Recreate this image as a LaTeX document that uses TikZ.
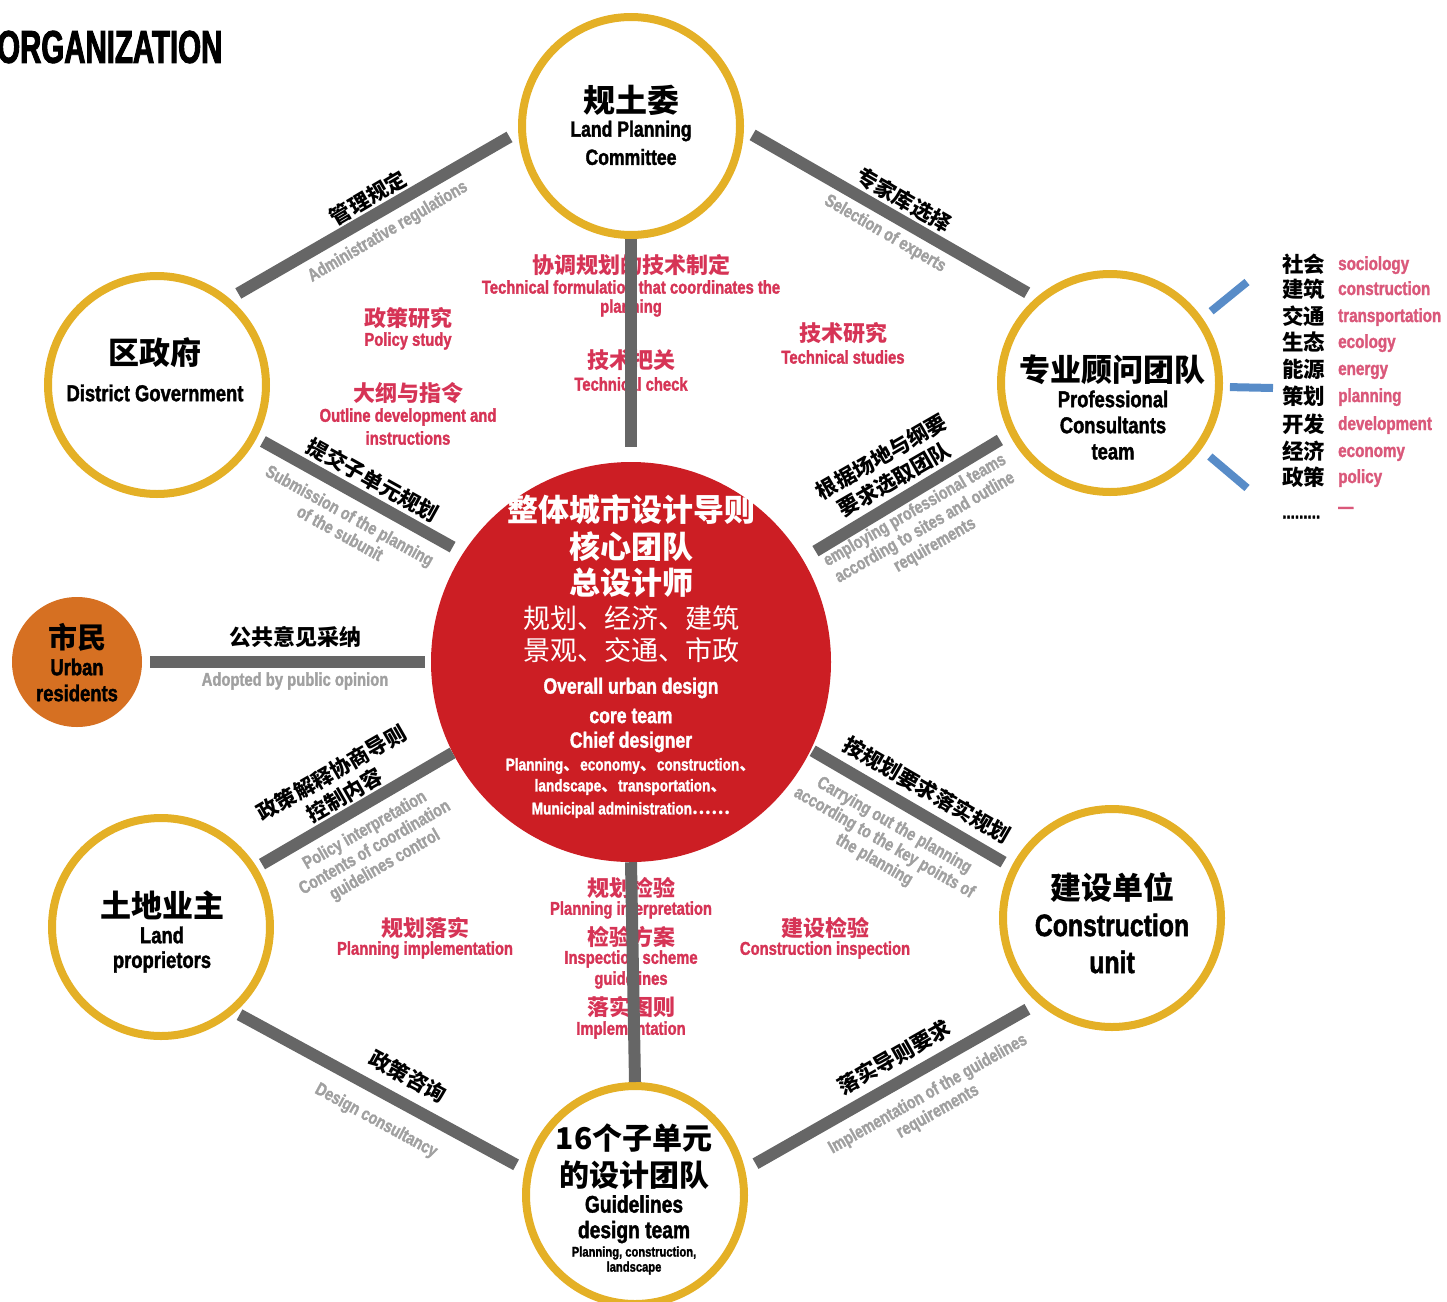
\documentclass[tikz,border=0pt]{standalone}
\usepackage{fontspec}
\newfontfamily\cjkfont{Noto Sans CJK SC}
\newfontfamily\condfont{Liberation Sans}[FakeStretch=0.8, FakeBold=1.6]
\newfontfamily\ttlfont{Liberation Sans}[FakeStretch=0.64, FakeBold=2]
\newcommand{\fs}[2]{\fontsize{#1}{#2}\selectfont}
\definecolor{ringY}{RGB}{228,176,38}
\definecolor{coreR}{RGB}{204,30,36}
\definecolor{orgO}{RGB}{214,112,34}
\definecolor{barG}{RGB}{102,102,102}
\definecolor{txtG}{RGB}{160,160,160}
\definecolor{labR}{RGB}{214,52,86}
\definecolor{listP}{RGB}{218,88,122}
\definecolor{lineB}{RGB}{88,140,200}
\begin{document}
\begin{tikzpicture}[x=1pt,y=-1pt,
  ring/.style={circle, draw=ringY, line width=8pt, minimum size=218pt, inner sep=0pt, fill=white},
  bar/.style={draw=barG, line width=12pt},
  blueline/.style={draw=lineB, line width=8pt},
  cnT/.style={inner sep=0pt, text=black, font=\cjkfont\bfseries\fs{#1}{#1}},
  enT/.style={inner sep=0pt, text=black, font=\condfont\bfseries\fs{#1}{#1}},
  cnW/.style={inner sep=0pt, text=white, font=\cjkfont\bfseries\fs{#1}{#1}},
  cnL/.style={inner sep=0pt, text=white, font=\cjkfont\fs{#1}{#1}},
  enW/.style={inner sep=0pt, text=white, font=\condfont\bfseries\fs{#1}{#1}},
  redcn/.style={inner sep=0pt, text=labR, font=\cjkfont\bfseries\fs{22}{22}},
  reden/.style={inner sep=0pt, text=labR, font=\condfont\bfseries\fs{18.5}{18.5}},
  barcn/.style={inner sep=0pt, align=center, text=black, font=\cjkfont\bfseries\fs{21}{26}},
  baren/.style={inner sep=0pt, align=center, text=txtG, font=\condfont\bfseries\fs{18}{20}},
  listcn/.style={inner sep=0pt, anchor=west, text=black, font=\cjkfont\bfseries\fs{21.5}{21.5}, text height=18pt, text depth=3pt},
  listen/.style={inner sep=0pt, anchor=west, text=listP, font=\condfont\bfseries\fs{19}{19}, text height=14pt, text depth=4pt}
]
\useasboundingbox (0,0) rectangle (1447,1301);

% title
\node[anchor=west, inner sep=0pt, font=\ttlfont\bfseries\fs{46}{46}] (ttl) at (-3,47) {ORGANIZATION};

% circles
\node[ring] (lpc) at (631,126) {};
\node[ring] (dg) at (157,385) {};
\node[ring] (pct) at (1110,383) {};
\node[ring] (lp) at (161,927) {};
\node[ring] (cu) at (1112,918) {};
\node[ring] (gdt) at (635,1195) {};
\node[circle, fill=coreR, minimum size=400pt, inner sep=0pt] (core) at (631,662) {};
\node[circle, fill=orgO, minimum size=130pt, inner sep=0pt] (ur) at (77,662) {};

% red labels (drawn beneath the bars)
\node[redcn] (r1a) at (631,265) {协调规划的技术制定};
\node[reden] (r1b) at (631,287) {Technical formulation that coordinates the};
\node[reden] (r1c) at (631,308) {planning};
\node[redcn] (r2a) at (631,360) {技术把关};
\node[reden] (r2b) at (631,384) {Technical check};
\node[redcn] (r3a) at (408,318) {政策研究};
\node[reden] (r3b) at (408,341) {Policy study};
\node[redcn] (r4a) at (408,393) {大纲与指令};
\node[reden] (r4b) at (408,417) {Outline development and};
\node[reden] (r4c) at (408,438) {instructions};
\node[redcn] (r5a) at (843,333) {技术研究};
\node[reden] (r5b) at (843,357) {Technical studies};
\node[redcn] (r6a) at (425,928) {规划落实};
\node[reden] (r6b) at (425,950) {Planning implementation};
\node[redcn] (r7a) at (631,888) {规划检验};
\node[reden] (r7b) at (631,910) {Planning interpretation};
\node[redcn] (r7c) at (631,937) {检验方案};
\node[reden] (r7d) at (631,959) {Inspection scheme};
\node[reden] (r7e) at (631,980) {guidelines};
\node[redcn] (r7f) at (631,1007) {落实图则};
\node[reden] (r7g) at (631,1030) {Implementation};
\node[redcn] (r8a) at (825,928) {建设检验};
\node[reden] (r8b) at (825,950) {Construction inspection};

% bars
\draw[bar, shorten <=10pt, shorten >=10pt] (dg.50) -- (lpc.183);
\draw[bar, shorten <=10pt, shorten >=10pt] (lpc.-2) -- (pct.131);
\draw[bar, shorten >=15pt] (lpc.south) -- (core.north);
\draw[bar, shorten <=7pt, shorten >=12pt] (dg.-28) -- (core.147);
\draw[bar, shorten <=11pt, shorten >=15pt] (pct.207) -- (core.31);
\draw[bar, shorten <=8pt, shorten >=6pt] (ur.east) -- (core.west);
\draw[bar, shorten <=6pt] (lp.32) -- (core.207);
\draw[bar, shorten <=2pt, shorten >=9pt] (core.-26) -- (cu.153);
\draw[bar] (core.south) -- (gdt.north);
\draw[bar, shorten <=5pt, shorten >=10pt] (lp.-49) -- (gdt.167);
\draw[bar, shorten <=12pt, shorten >=12pt] (gdt.13) -- (cu.229);

% blue ticks
\coordinate (bt1) at (1247,282);
\coordinate (bt2) at (1273,388);
\coordinate (bt3) at (1247,488);
\draw[blueline, shorten <=11pt] (pct.35) -- (bt1);
\draw[blueline, shorten <=7pt] (pct.-2.5) -- (bt2);
\draw[blueline, shorten <=11pt] (pct.-36) -- (bt3);

% bar labels
\node[barcn, rotate=30.5] (l1a) at (368,198) {管理规定};
\node[baren, rotate=30.5] (l1b) at (388,232) {Administrative regulations};
\node[barcn, rotate=-30] (l2a) at (904,200) {专家库选择};
\node[baren, rotate=-30] (l2b) at (885,234) {Selection of experts};
\node[barcn, rotate=-29] (l4a) at (373,480) {提交子单元规划};
\node[baren, rotate=-29] (l4b) at (345,524) {Submission of the planning\\of the subunit};
\node[barcn, rotate=30] (l5a) at (888,468) {根据场地与纲要\\要求选取团队};
\node[baren, rotate=30] (l5b) at (925,528) {employing professional teams\\according to sites and outline\\requirements};
\node[barcn, font=\cjkfont\bfseries\fs{22}{22}] (l6a) at (295,637) {公共意见采纳};
\node[baren, font=\condfont\bfseries\fs{18.5}{20}] (l6b) at (295,681) {Adopted by public opinion};
\node[barcn, rotate=30] (l7a) at (338,784) {政策解释协商导则\\控制内容};
\node[baren, rotate=30] (l7b) at (375,848) {Policy interpretation\\Contents of coordination\\guidelines control};
\node[barcn, rotate=-30] (l8a) at (927,790) {按规划要求落实规划};
\node[baren, rotate=-30] (l8b) at (884,843) {Carrying out the planning\\according to the key points of\\the planning};
\node[barcn, rotate=-28.5] (l10a) at (408,1076) {政策咨询};
\node[baren, rotate=-28.5] (l10b) at (376,1121) {Design consultancy};
\node[barcn, rotate=29.5] (l11a) at (894,1057) {落实导则要求};
\node[baren, rotate=29.5] (l11b) at (933,1103) {Implementation of the guidelines\\requirements};

% circle texts
\node[cnT=32] (lpcA) at (631,100) {规土委};
\node[enT=22] (lpcB) at (631,131) {Land Planning};
\node[enT=22] (lpcC) at (631,157) {Committee};

\node[cnT=31] (dgA) at (155,353) {区政府};
\node[enT=23] (dgB) at (155,393) {District Government};

\node[cnT=31] (pctA) at (1112,370) {专业顾问团队};
\node[enT=23] (pctB) at (1113,399) {Professional};
\node[enT=23] (pctC) at (1113,425) {Consultants};
\node[enT=23] (pctD) at (1113,452) {team};

\node[cnT=29] (urA) at (77,637) {市民};
\node[enT=23] (urB) at (77,667) {Urban};
\node[enT=23] (urC) at (77,693) {residents};

\node[cnT=31] (lpA) at (162,905) {土地业主};
\node[enT=23] (lpB) at (162,935) {Land};
\node[enT=23] (lpC) at (162,962) {proprietors};

\node[cnT=31] (cuA) at (1112,887) {建设单位};
\node[enT=31] (cuB) at (1112,925) {Construction};
\node[enT=31] (cuC) at (1112,962) {unit};

\node[cnT=30] (gdtA) at (634,1138) {16个子单元};
\node[cnT=30] (gdtB) at (634,1175) {的设计团队};
\node[enT=24] (gdtC) at (634,1204) {Guidelines};
\node[enT=24] (gdtD) at (634,1232) {design team};
\node[enT=14] (gdtE) at (634,1253) {Planning, construction,};
\node[enT=14] (gdtF) at (634,1268) {landscape};

% core texts
\node[cnW=31] (cA) at (631,510) {整体城市设计导则};
\node[cnW=31] (cB) at (631,547) {核心团队};
\node[cnW=31] (cC) at (631,583) {总设计师};
\node[cnL=27] (cD) at (631,618) {规划、经济、建筑};
\node[cnL=27] (cE) at (631,650) {景观、交通、市政};
\node[enW=22] (cF) at (631,688) {Overall urban design};
\node[enW=22] (cG) at (631,716) {core team};
\node[enW=22] (cH) at (631,742) {Chief designer};
\node[enW=17] (cI) at (631,766) {Planning{\cjkfont 、}economy{\cjkfont 、}construction{\cjkfont 、}};
\node[enW=17] (cJ) at (631,787) {landscape{\cjkfont 、}transportation{\cjkfont 、}};
\node[enW=17] (cK) at (631,810) {Municipal administration{\cjkfont ……}};

% right list
\foreach \cn/\en/\yy [count=\i] in {社会/sociology/265, 建筑/construction/290, 交通/transportation/317, 生态/ecology/343, 能源/energy/370, 策划/planning/397, 开发/development/425, 经济/economy/452, 政策/policy/478} {
  \node[listcn] (lc\i) at (1282,\yy) {\cn};
  \node[listen] (le\i) at (1338,\yy) {\en};
}
\node[listcn, text=black, font=\condfont\bfseries\fs{19}{19}] (ldots) at (1282,511) {.........};
\node[listen] (ldash) at (1338,508) {—};
\end{tikzpicture}
\end{document}
